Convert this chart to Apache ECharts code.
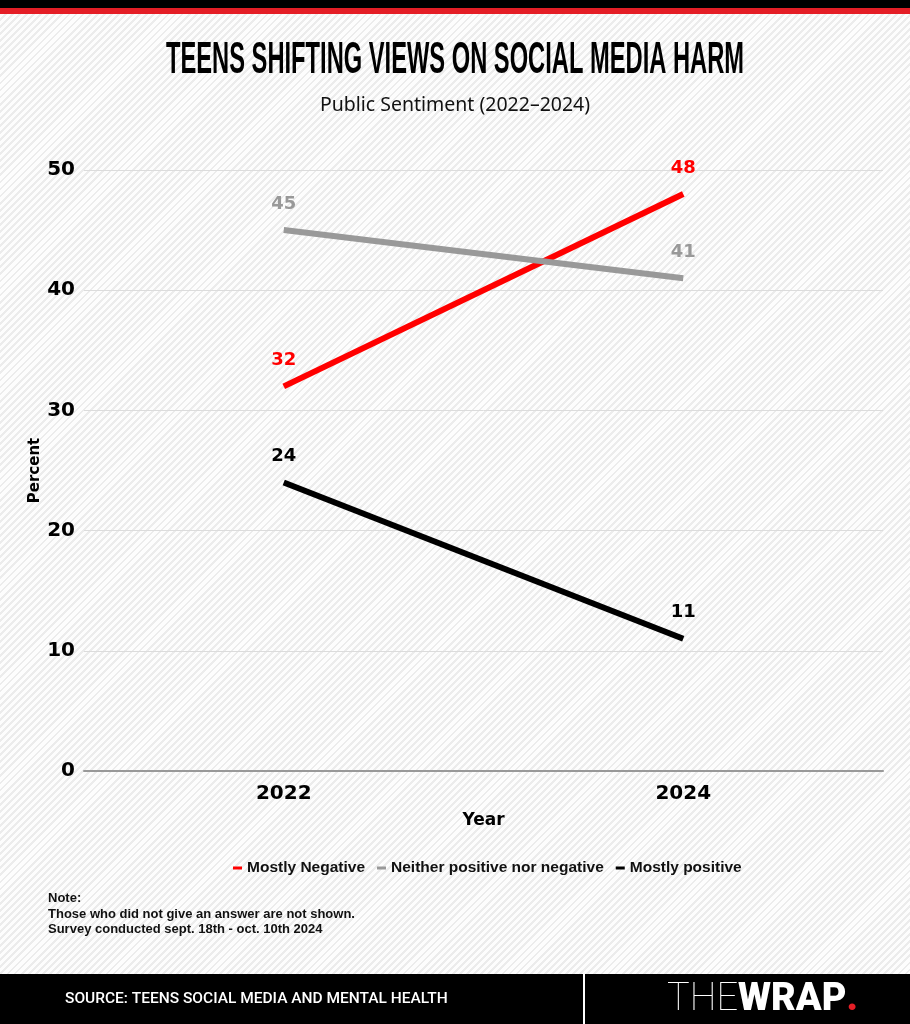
<!DOCTYPE html>
<html>
<head>
<meta charset="utf-8">
<script src="https://cdn.jsdelivr.net/npm/echarts@6/dist/echarts.min.js"></script>
<style>
  html, body { margin: 0; padding: 0; }
  #chart {
    width: 910px;
    height: 1024px;
    background: repeating-linear-gradient(135deg, #fdfdfd 0px, #fdfdfd 3px, #ececec 3px, #ececec 5px);
  }
</style>
</head>
<body>
<div id="chart"></div>
<script>
const years = ['2022', '2024']
const mostlyNegative = [32, 48]
const neither = [45, 41]
const mostlyPositive = [24, 11]
const yTicks = { min: 0, max: 50, interval: 10 }

const titleText = 'TEENS SHIFTING VIEWS ON SOCIAL MEDIA HARM'
const titleFont = 'bold 45px "Liberation Sans Narrow", "Liberation Sans", sans-serif'

// squeeze the headline to the width of the original condensed face
const ctx = document.createElement('canvas').getContext('2d')
ctx.font = titleFont
const titleScale = 578 / ctx.measureText(titleText).width

const heavy = '"DejaVu Sans", sans-serif'

const makeSeries = (name, data, color) => ({
  name,
  type: 'line',
  data,
  symbol: 'circle',
  symbolSize: 0.1,
  itemStyle: { color },
  lineStyle: { width: 6, color, cap: 'butt' },
  label: {
    show: true,
    position: 'top',
    distance: 17,
    color,
    fontFamily: heavy,
    fontWeight: 'bold',
    fontSize: 18
  },
  emphasis: { disabled: true }
})

const chart = echarts.init(document.getElementById('chart'))

const option = {
  animation: false,
  backgroundColor: 'transparent',
  grid: { left: 84, right: 27, top: 170, bottom: 253 },
  legend: {
    left: 228,
    top: 855,
    icon: 'rect',
    itemWidth: 9,
    itemHeight: 3,
    itemGap: 12,
    textStyle: {
      fontFamily: '"Liberation Sans", Arial, sans-serif',
      fontWeight: 'bold',
      fontSize: 15.5,
      color: '#111'
    },
    data: ['Mostly Negative', 'Neither positive nor negative', 'Mostly positive']
  },
  xAxis: {
    type: 'category',
    data: years,
    boundaryGap: true,
    name: 'Year',
    nameLocation: 'middle',
    nameGap: 41,
    nameTextStyle: { fontFamily: heavy, fontWeight: 'bold', fontSize: 17, color: '#000' },
    axisTick: { show: false },
    axisLine: { lineStyle: { color: '#999', width: 2 } },
    axisLabel: { margin: 13, fontFamily: heavy, fontWeight: 'bold', fontSize: 20, color: '#000' }
  },
  yAxis: {
    type: 'value',
    min: yTicks.min,
    max: yTicks.max,
    interval: yTicks.interval,
    name: 'Percent',
    nameLocation: 'middle',
    nameRotate: 90,
    nameGap: 41,
    nameMoveOverlap: false,
    nameTextStyle: { fontFamily: heavy, fontWeight: 'bold', fontSize: 15, color: '#000' },
    axisLine: { show: false },
    axisTick: { show: false },
    axisLabel: { margin: 9, fontFamily: heavy, fontWeight: 'bold', fontSize: 20, color: '#000' },
    splitLine: { lineStyle: { color: '#dcdcdc', width: 1 } }
  },
  series: [
    makeSeries('Mostly Negative', mostlyNegative, '#ff0000'),
    makeSeries('Neither positive nor negative', neither, '#999999'),
    makeSeries('Mostly positive', mostlyPositive, '#000000')
  ],
  graphic: [
    // top bars
    { type: 'rect', left: 0, top: 0, shape: { width: 910, height: 8 }, style: { fill: '#000' } },
    { type: 'rect', left: 0, top: 8, shape: { width: 910, height: 6 }, style: { fill: '#e41e26' } },
    {
      type: 'text',
      x: 455, y: 61,
      scaleX: titleScale,
      style: {
        text: titleText,
        font: titleFont,
        fill: '#000',
        align: 'center',
        verticalAlign: 'middle'
      }
    },
    {
      type: 'text',
      x: 455, y: 105,
      style: {
        text: 'Public Sentiment (2022–2024)',
        font: '19.5px "Noto Sans", sans-serif',
        fill: '#111',
        align: 'center',
        verticalAlign: 'middle'
      }
    },
    // note
    {
      type: 'text',
      x: 48, y: 891,
      style: {
        text: 'Note:\nThose who did not give an answer are not shown.\nSurvey conducted sept. 18th - oct. 10th 2024',
        font: 'bold 13px "Liberation Sans", Arial, sans-serif',
        lineHeight: 15.5,
        fill: '#111',
        align: 'left',
        verticalAlign: 'top'
      }
    },
    // footer
    { type: 'rect', left: 0, top: 974, shape: { width: 910, height: 50 }, style: { fill: '#000' } },
    { type: 'rect', left: 583, top: 974, shape: { width: 2, height: 50 }, style: { fill: '#fff' } },
    {
      type: 'text',
      x: 65, y: 999,
      style: {
        text: 'SOURCE: TEENS SOCIAL MEDIA AND MENTAL HEALTH',
        font: '500 15.5px Roboto, sans-serif',
        fill: '#fff',
        align: 'left',
        verticalAlign: 'middle'
      }
    },
    {
      type: 'text',
      x: 667, y: 1000,
      style: {
        text: '{thin|THE}{bold|WRAP}{dot|.}',
        align: 'left',
        verticalAlign: 'middle',
        rich: {
          thin: { fontFamily: 'Roboto', fontWeight: 100, fontSize: 38, fill: '#fff' },
          bold: { fontFamily: 'Roboto', fontWeight: 900, fontSize: 38, fill: '#fff' },
          dot: { fontFamily: 'Roboto', fontWeight: 900, fontSize: 38, fill: '#e41e26' }
        }
      }
    }
  ]
}

chart.setOption(option)
</script>
</body>
</html>
